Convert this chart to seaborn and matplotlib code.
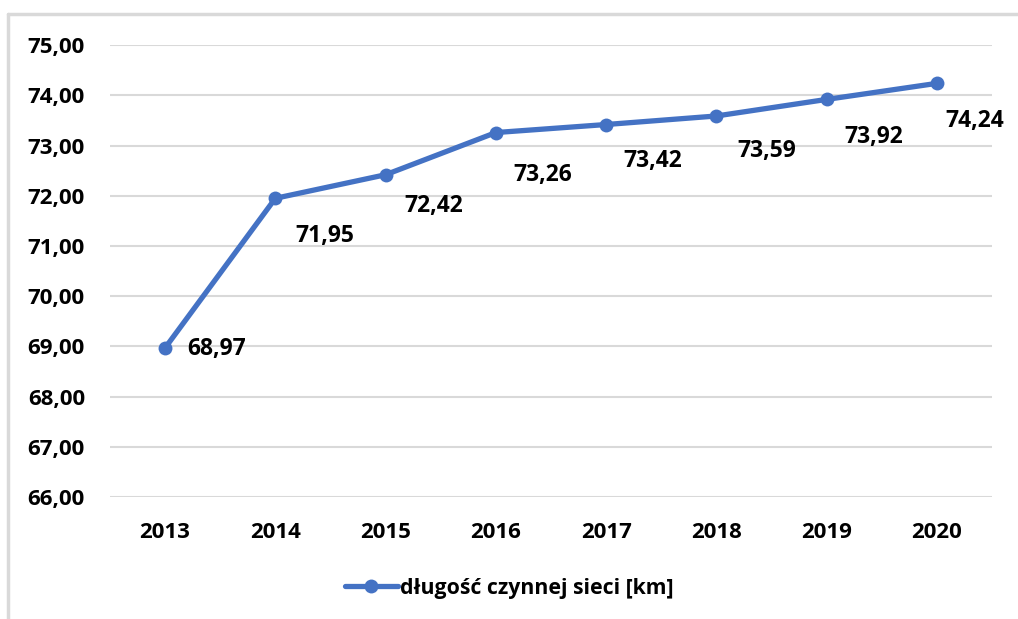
import matplotlib
matplotlib.use("Agg")
import matplotlib.pyplot as plt  # type: ignore
import matplotlib.ticker as mticker  # type: ignore
from matplotlib.lines import Line2D  # type: ignore
import pandas as pd  # type: ignore
import seaborn as sns  # type: ignore

years = ["2013", "2014", "2015", "2016", "2017", "2018", "2019", "2020"]
lengths = [68.97, 71.95, 72.42, 73.26, 73.42, 73.59, 73.92, 74.24]
series_name = "długość czynnej sieci [km]"

# label offsets (pixels)
label_dx = [52, 49, 48, 47, 47, 50, 47, 38]
label_dy = [-1, -38, -31, -42, -36, -35, -38, -38]

df = pd.DataFrame({"rok": years, "km": lengths, "seria": series_name})

sns.set_theme(style="white")
plt.rcParams["font.family"] = ["Open Sans", "DejaVu Sans"]
plt.rcParams["text.color"] = "black"
blue = "#4472C4"

fig = plt.figure(figsize=(10.18, 6.19), dpi=100)
ax = fig.add_axes([0.108, 0.197, 0.8665, 0.730])

sns.lineplot(data=df, x="rok", y="km", hue="seria", palette=[blue], sort=False,
             marker="o", markersize=10, markeredgewidth=0, linewidth=3.8, ax=ax)

ax.set_ylim(66, 75)
ax.set_xlim(-0.5, len(years) - 0.5)
ax.yaxis.set_major_locator(mticker.MultipleLocator(1))
ax.yaxis.set_major_formatter(mticker.FuncFormatter(lambda v, p: f"{v:.2f}".replace(".", ",")))
ax.grid(axis="y", color="#d9d9d9", linewidth=1.5)
ax.set_axisbelow(True)
for s in ax.spines.values():
    s.set_visible(False)
ax.set_xlabel("")
ax.set_ylabel("")
ax.tick_params(axis="both", length=0, labelsize=16, colors="black")
ax.tick_params(axis="y", pad=18)
ax.tick_params(axis="x", pad=18)
for t in ax.get_xticklabels() + ax.get_yticklabels():
    t.set_fontweight("bold")

for i, v in enumerate(lengths):
    ax.annotate(f"{v:.2f}".replace(".", ","), (i, v), xytext=(label_dx[i], label_dy[i]),
                textcoords="offset pixels", ha="center", va="center",
                fontsize=16.5, fontweight="bold", color="black")

ax.legend_.remove()
handle = Line2D([], [], color=blue, marker="o", markersize=10, markeredgewidth=0, linewidth=3.8)
fig.legend([handle], [series_name], loc="center", bbox_to_anchor=(0.5, 0.05),
           frameon=False, handlelength=2.5, handletextpad=0.1,
           prop={"size": 15.3, "weight": "bold"})

# outer chart border (only top and left visible in the crop)
fig.add_artist(Line2D([8 / 1018, 1], [1 - 14 / 619, 1 - 14 / 619], color="#d9d9d9", linewidth=2.5))
fig.add_artist(Line2D([8 / 1018, 8 / 1018], [0, 1 - 14 / 619], color="#d9d9d9", linewidth=2.5))

fig.savefig("out.png", dpi=100, facecolor="white")
